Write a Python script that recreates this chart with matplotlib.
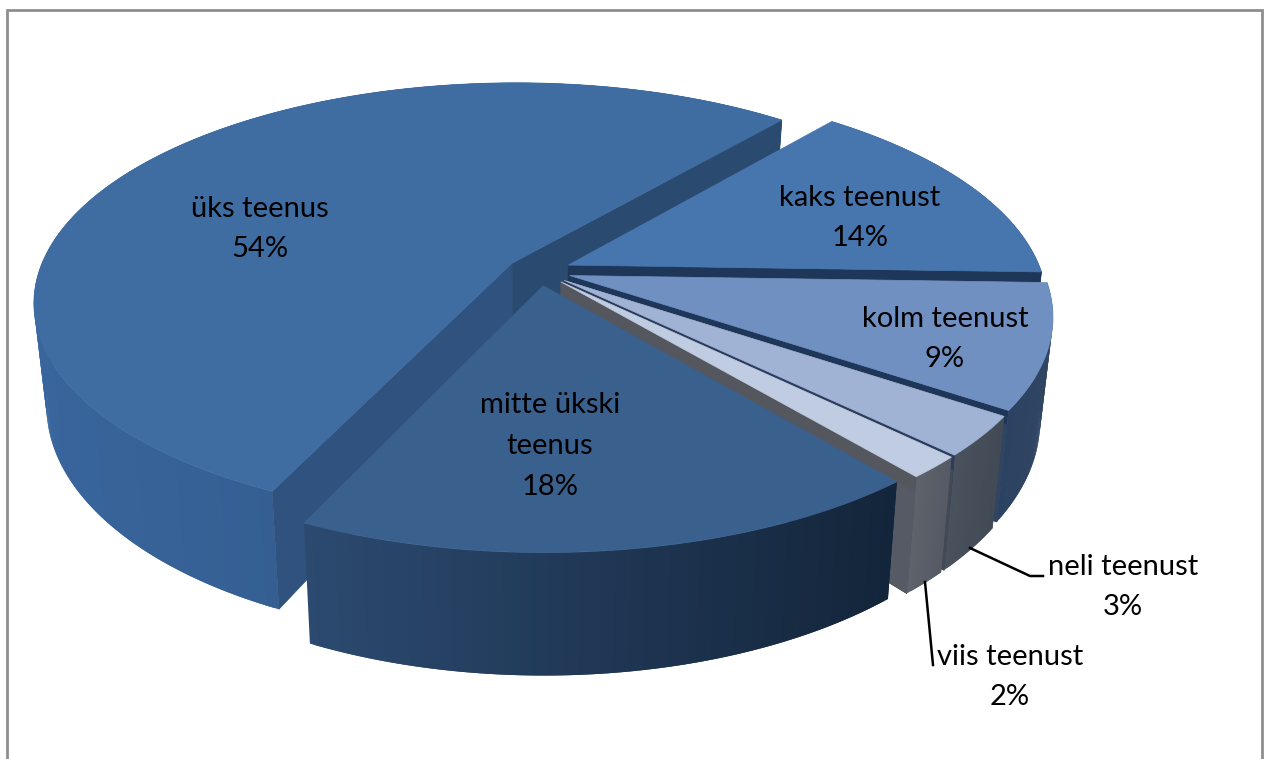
#!/usr/bin/env python3
# coding: utf-8

import numpy as np
import matplotlib
matplotlib.use('Agg')
import matplotlib.pyplot as plt
from matplotlib.collections import PolyCollection
from matplotlib.colors import to_rgb
from matplotlib.patches import Polygon

# clockwise, starting from the first slice angle
categories = ['kaks teenust', 'kolm teenust', 'neli teenust', 'viis teenust', 'mitte ükski\nteenus', 'üks teenus']
shares = [14.4, 9.0, 2.9, 1.6, 17.9, 54.2]

# styling, one entry per slice
top_colors = ['#4776ae', '#7090c2', '#a0b3d5', '#bfcce1', '#3a608e', '#3f6da2']
wall_left = ['#2c4262', '#2c4262', '#4a525e', '#5e636c', '#2c4a70', '#38659c']
wall_right = ['#2c4262', '#2f4562', '#424a56', '#555a64', '#13253a', '#2f5380']
cut_start = ['#1e3658', '#1e3658', '#2c3c5c', '#55575f', '#30527e', '#30527e']
cut_end = ['#1e3658', '#1e3658', '#2c3c5c', '#55575f', '#30527e', '#2a4a70']
label_pos = [(860, 218), (945, 339), (1123, 587), (1010, 677), (550, 446), (260, 229)]
draw_order = [5, 0, 1, 2, 3, 4]

# projection of the pie, in pixels
first_angle = 40
x0, y0 = 539, 271
rx, ry = 473, 214.5
persp = 0.175
depth = 100
shrink = 0.025
explode = 0.068


def project(u, v, z=0):
    s = 1 / (1 - persp * v)
    x = x0 + rx * u * s * (1 - shrink * z)
    y = y0 + ry * v * s + depth * s * z
    return x, y


def rim(theta, mid, z=0, r=1.0):
    t = np.radians(theta)
    m = np.radians(mid)
    u = r * np.sin(t) + explode * np.sin(m)
    v = -r * np.cos(t) - explode * np.cos(m)
    return project(u, v, z)


fig = plt.figure(figsize=(12.67, 7.59), dpi=100)
ax = fig.add_axes([0, 0, 1, 1])
ax.set_xlim(0, 1267)
ax.set_ylim(759, 0)
ax.axis('off')

# chart frame, its lower edge is cut off by the picture
ax.plot([7, 7, 1262, 1262], [765, 10, 10, 765], color='#8e8e8e', lw=2, solid_joinstyle='miter')

edges = first_angle + np.cumsum([0] + shares) * 3.6

for i in draw_order:
    a0, a1 = edges[i], edges[i + 1]
    mid = (a0 + a1) / 2
    thetas = np.linspace(a0, a1, max(int(a1 - a0) * 2, 8))

    # outer wall, shaded from left to right, each strip overlaps the next to hide seams
    top_pts = [rim(t, mid, 0) for t in thetas]
    bot_pts = [rim(t, mid, 1) for t in thetas]
    xs = np.array([p[0] for p in top_pts])
    c0, c1 = np.array(to_rgb(wall_left[i])), np.array(to_rgb(wall_right[i]))
    n = len(thetas)
    left_first = xs[0] < xs[-1]
    strips = []
    cols = []
    for j in (range(n - 1) if left_first else range(n - 2, -1, -1)):
        if left_first:
            p, q = j, min(j + 2, n - 1)
        else:
            p, q = max(j - 1, 0), j + 1
        strips.append([top_pts[p], top_pts[q], bot_pts[q], bot_pts[p]])
        f = (xs[j] - xs.min()) / max(xs.max() - xs.min(), 1)
        cols.append(c0 + (c1 - c0) * f)
    ax.add_collection(PolyCollection(strips, facecolors=cols, edgecolors='none', linewidths=0))

    # flat walls along the cuts, only those that face the viewer
    for ang, col, facing in ((a0, cut_start[i], -1), (a1, cut_end[i], 1)):
        if facing * np.sin(np.radians(ang)) <= 0:
            continue
        pts = [rim(0, mid, 0, 0), rim(ang, mid, 0), rim(ang, mid, 1), rim(0, mid, 1, 0)]
        ax.add_patch(Polygon(pts, closed=True, fc=col, ec=col, lw=0.5))

    # the gap between thin slices shows the outer shade, not the dark cut
    if i < 4:
        pts = [rim(a1, mid, 0.13, 0.94), rim(a1, mid, 0.13), rim(a1, mid, 1), rim(a1, mid, 1, 0.94)]
        ax.add_patch(Polygon(pts, closed=True, fc=wall_right[i], ec=wall_right[i], lw=0.5))

    # top face
    pts = [rim(0, mid, 0, 0)] + top_pts
    ax.add_patch(Polygon(pts, closed=True, fc=top_colors[i], ec=top_colors[i], lw=0.5))

# leader lines of the two small slices
ax.plot([970, 1030, 1043], [548, 576, 576], color='black', lw=1.8)
ax.plot([925, 933], [582, 665], color='black', lw=1.8)

for name, share, pos in zip(categories, shares, label_pos):
    ax.text(pos[0], pos[1], '%s\n%.0f%%' % (name, share), ha='center', va='center',
            family='Lato', fontsize=21, color='black', linespacing=1.7)

plt.savefig('out.png', dpi=100)
